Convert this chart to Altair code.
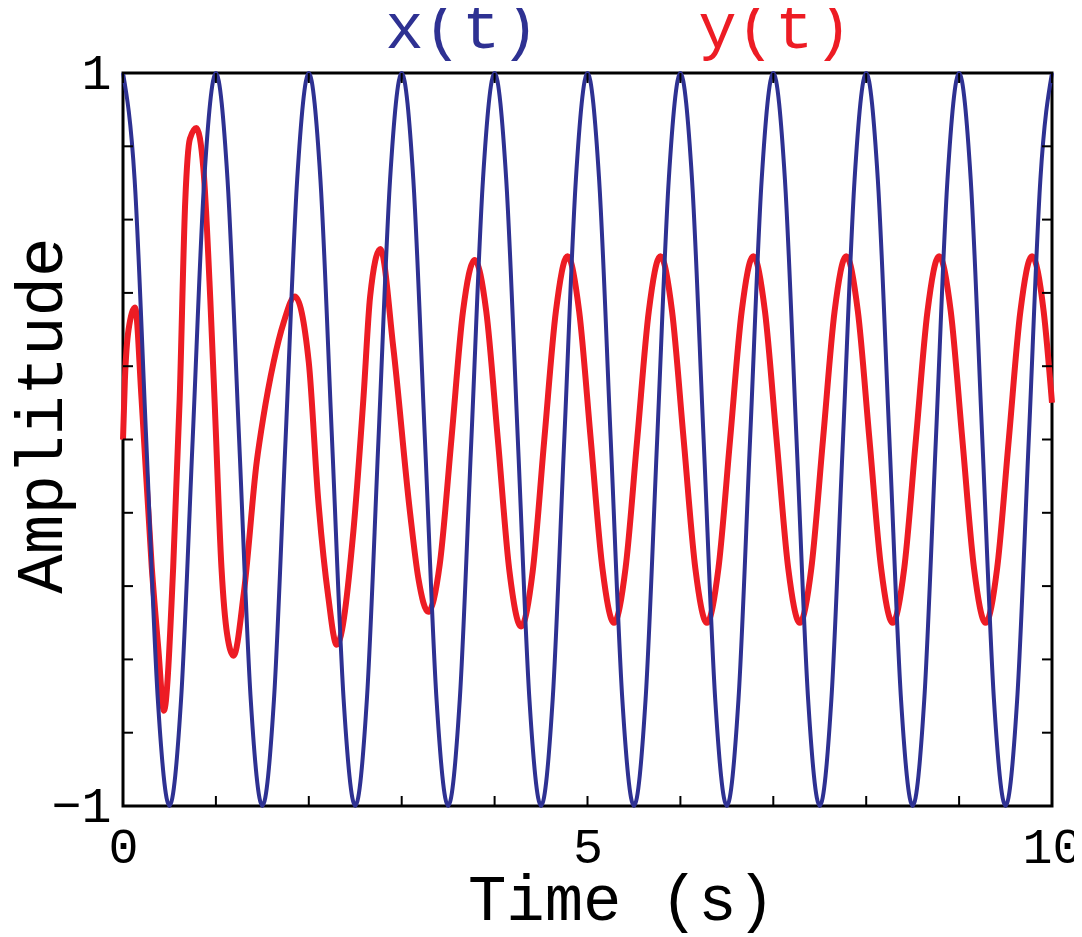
import altair as alt
import pandas as pd

# ---- data ----
BLUE_T = [
    0.0, 0.125, 0.25, 0.375, 0.5, 0.625, 0.75, 0.875,
    1.0, 1.125, 1.25, 1.375, 1.5, 1.625, 1.75, 1.875,
    2.0, 2.125, 2.25, 2.375, 2.5, 2.625, 2.75, 2.875,
    3.0, 3.125, 3.25, 3.375, 3.5, 3.625, 3.75, 3.875,
    4.0, 4.125, 4.25, 4.375, 4.5, 4.625, 4.75, 4.875,
    5.0, 5.125, 5.25, 5.375, 5.5, 5.625, 5.75, 5.875,
    6.0, 6.125, 6.25, 6.375, 6.5, 6.625, 6.75, 6.875,
    7.0, 7.125, 7.25, 7.375, 7.5, 7.625, 7.75, 7.875,
    8.0, 8.125, 8.25, 8.375, 8.5, 8.625, 8.75, 8.875,
    9.0, 9.125, 9.25, 9.375, 9.5, 9.625, 9.75, 9.875,
    10.0,
]
BLUE_Y = [
    1.0, 0.71, 0.0, -0.71, -1.0, -0.71, 0.0, 0.71,
    1.0, 0.71, 0.0, -0.71, -1.0, -0.71, 0.0, 0.71,
    1.0, 0.71, 0.0, -0.71, -1.0, -0.71, 0.0, 0.71,
    1.0, 0.71, 0.0, -0.71, -1.0, -0.71, 0.0, 0.71,
    1.0, 0.71, 0.0, -0.71, -1.0, -0.71, 0.0, 0.71,
    1.0, 0.71, 0.0, -0.71, -1.0, -0.71, 0.0, 0.71,
    1.0, 0.71, 0.0, -0.71, -1.0, -0.71, 0.0, 0.71,
    1.0, 0.71, 0.0, -0.71, -1.0, -0.71, 0.0, 0.71,
    1.0, 0.71, 0.0, -0.71, -1.0, -0.71, 0.0, 0.71,
    1.0, 0.71, 0.0, -0.71, -1.0, -0.71, 0.0, 0.71,
    1.0,
]
RED_T = [
    0.0, 0.02, 0.06, 0.13, 0.20, 0.31, 0.38, 0.44,
    0.54, 0.61, 0.67, 0.72, 0.79, 0.865, 0.94, 0.99,
    1.06, 1.12, 1.19, 1.30, 1.44, 1.51, 1.62, 1.73,
    1.85, 2.00, 2.10, 2.21, 2.30, 2.48, 2.59, 2.66,
    2.77, 2.91, 3.09, 3.18, 3.285, 3.41, 3.535, 3.66,
    3.785, 3.91, 4.035, 4.16, 4.285, 4.41, 4.535, 4.66,
    4.785, 4.91, 5.035, 5.16, 5.285, 5.41, 5.535, 5.66,
    5.785, 5.91, 6.035, 6.16, 6.285, 6.41, 6.535, 6.66,
    6.785, 6.91, 7.035, 7.16, 7.285, 7.41, 7.535, 7.66,
    7.785, 7.91, 8.035, 8.16, 8.285, 8.41, 8.535, 8.66,
    8.785, 8.91, 9.035, 9.16, 9.285, 9.41, 9.535, 9.66,
    9.785, 9.91, 10.0,
]
RED_Y = [
    0.0, 0.16, 0.30, 0.36, 0.11, -0.35, -0.57, -0.74,
    -0.35, 0.11, 0.65, 0.82, 0.85, 0.74, 0.38, 0.08,
    -0.35, -0.53, -0.59, -0.42, -0.06, 0.06, 0.21, 0.32,
    0.39, 0.21, -0.16, -0.43, -0.56, -0.25, 0.12, 0.39,
    0.52, 0.25, -0.20, -0.38, -0.47, -0.34, 0.0, 0.35,
    0.49, 0.35, 0.0, -0.36, -0.51, -0.36, 0.0, 0.35,
    0.50, 0.35, 0.0, -0.35, -0.50, -0.35, 0.0, 0.35,
    0.50, 0.35, 0.0, -0.35, -0.50, -0.35, 0.0, 0.35,
    0.50, 0.35, 0.0, -0.35, -0.50, -0.35, 0.0, 0.35,
    0.50, 0.35, 0.0, -0.35, -0.50, -0.35, 0.0, 0.35,
    0.50, 0.35, 0.0, -0.35, -0.50, -0.35, 0.0, 0.35,
    0.50, 0.35, 0.10,
]
X_TICKS = [0, 1, 2, 3, 4, 5, 6, 7, 8, 9, 10]
Y_TICKS = [-1.0, -0.8, -0.6, -0.4, -0.2, 0.0, 0.2, 0.4, 0.6, 0.8, 1.0]
X_LABELS = [0, 5, 10]
Y_LABELS = [-1, 0, 1]
SERIES = ["x(t)", "y(t)"]
COLORS = ["#2E3192", "#ED1C24"]

W, H = 929, 733
FONT = "Liberation Mono"
TICK = 10

blue = pd.DataFrame({"t": BLUE_T, "v": BLUE_Y})
red = pd.DataFrame({"t": RED_T, "v": RED_Y})
xt = pd.DataFrame({"t": X_TICKS})
yt = pd.DataFrame({"v": Y_TICKS})

xs = alt.Scale(domain=[0, 10], nice=False, zero=False)
ys = alt.Scale(domain=[-1, 1], nice=False, zero=False)

xaxis = alt.Axis(
    values=X_LABELS, format="d", title="Time (s)", grid=False, ticks=False,
    tickSize=0, domain=False, labelFont=FONT, labelFontSize=50,
    labelPadding=16, labelColor="black", labelFlush=False, labelBaseline="top",
    titleFont=FONT, titleFontSize=64, titleFontWeight="normal",
    titleColor="black", titleX=498, titleY=113,
    titleBaseline="alphabetic", titleAlign="center",
)
yaxis = alt.Axis(
    values=Y_LABELS, format="d", title="Amplitude", grid=False, ticks=False,
    tickSize=0, domain=False, labelFont=FONT, labelFontSize=50,
    labelPadding=12, labelColor="black", labelFlush=False,
    titleFont=FONT, titleFontSize=66, titleFontWeight="normal",
    titleColor="black", titleAngle=-90, titleX=-62, titleY=342,
    titleBaseline="alphabetic", titleAlign="center",
)

X = alt.X("t:Q", scale=xs, axis=xaxis)
Y = alt.Y("v:Q", scale=ys, axis=yaxis)

red_line = alt.Chart(red).mark_line(
    color=COLORS[1], strokeWidth=6, interpolate="monotone"
).encode(x=X, y=Y)

blue_line = alt.Chart(blue).mark_line(
    color=COLORS[0], strokeWidth=4, interpolate="monotone"
).encode(x=X, y=Y)

tick_style = dict(color="black", strokeWidth=2)
xt_bottom = alt.Chart(xt).mark_rule(**tick_style).encode(
    x=X, y=alt.value(H), y2=alt.value(H - TICK))
xt_top = alt.Chart(xt).mark_rule(**tick_style).encode(
    x=X, y=alt.value(0), y2=alt.value(TICK))
yt_left = alt.Chart(yt).mark_rule(**tick_style).encode(
    y=Y, x=alt.value(0), x2=alt.value(TICK))
yt_right = alt.Chart(yt).mark_rule(**tick_style).encode(
    y=Y, x=alt.value(W), x2=alt.value(W - TICK))

lab = pd.DataFrame({"label": SERIES})
lbl_x = alt.Chart(lab).transform_filter(alt.datum.label == SERIES[0]).mark_text(
    font=FONT, fontSize=64, color=COLORS[0], align="center", baseline="middle"
).encode(text="label:N", x=alt.value(339), y=alt.value(-44))
lbl_y = alt.Chart(lab).transform_filter(alt.datum.label == SERIES[1]).mark_text(
    font=FONT, fontSize=64, color=COLORS[1], align="center", baseline="middle"
).encode(text="label:N", x=alt.value(652), y=alt.value(-44))

chart = alt.layer(
    red_line, blue_line, xt_bottom, xt_top, yt_left, yt_right, lbl_x, lbl_y
).properties(
    width=W, height=H, autosize="none",
    padding={"left": 115, "top": 65, "right": 22, "bottom": 130},
    background="white",
).configure_view(stroke="black", strokeWidth=3)

chart.save("out.html", embed_options={"renderer": "svg", "actions": False})
